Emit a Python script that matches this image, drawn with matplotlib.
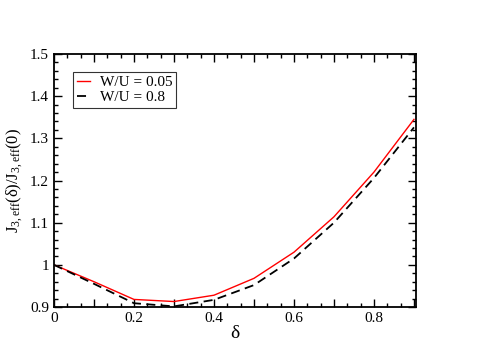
import numpy as np
import matplotlib
matplotlib.use('Agg')
import matplotlib.pyplot as plt
from matplotlib.ticker import MultipleLocator, FuncFormatter

delta = [0.0, 0.1, 0.2, 0.3, 0.4, 0.5, 0.6, 0.7, 0.8, 0.9]
j_005 = [1.0, 0.96, 0.918, 0.913, 0.928, 0.968, 1.030, 1.114, 1.220, 1.345]
j_08 = [1.0, 0.955, 0.909, 0.9015, 0.917, 0.952, 1.015, 1.100, 1.206, 1.326]
labels = ['W/U = 0.05', 'W/U = 0.8']

plt.rcParams['font.family'] = ['Liberation Serif', 'DejaVu Serif']
plt.rcParams['mathtext.fontset'] = 'custom'
plt.rcParams['mathtext.rm'] = 'Liberation Serif'
plt.rcParams['mathtext.it'] = 'Liberation Serif'

fig = plt.figure(figsize=(4.98, 3.52), dpi=100)
ax = fig.add_axes([0.1084, 0.1278, 0.7269, 0.7188])

ax.plot(delta, j_005, color='red', lw=1.0, label=labels[0])
ax.plot(delta, j_08, color='black', lw=1.3, ls=(0, (5, 3)), label=labels[1])

ax.set_xlim(0, 0.905)
ax.set_ylim(0.9, 1.5)

ax.xaxis.set_major_locator(MultipleLocator(0.1))
ax.xaxis.set_minor_locator(MultipleLocator(0.1 / 3))
ax.yaxis.set_major_locator(MultipleLocator(0.1))
ax.yaxis.set_minor_locator(MultipleLocator(0.02))

def xfmt(v, pos):
    k = int(round(v * 10))
    if k % 2:
        return ''
    return '0' if k == 0 else '%g' % (k / 10)

def yfmt(v, pos):
    return '%g' % round(v, 2)

ax.xaxis.set_major_formatter(FuncFormatter(xfmt))
ax.yaxis.set_major_formatter(FuncFormatter(yfmt))

ax.tick_params(which='both', direction='in', top=True, right=True, labelsize=11, width=1.0)
ax.tick_params(which='major', length=6)
ax.tick_params(which='minor', length=3)
for s in ax.spines.values():
    s.set_linewidth(1.3)

ax.set_xlabel('δ', fontsize=14, labelpad=0)
ax.set_ylabel(r'J$_{3,\mathrm{eff}}$(δ)/J$_{3,\mathrm{eff}}$(0)', fontsize=12, labelpad=4)

leg = ax.legend(loc='upper left', bbox_to_anchor=(0.052, 0.929), fontsize=11,
                frameon=True, fancybox=False, edgecolor='black', handlelength=0.9,
                handletextpad=0.6, borderpad=0.25, labelspacing=0.05, borderaxespad=0)
leg.get_frame().set_linewidth(0.8)

fig.savefig('out.png', dpi=100)
